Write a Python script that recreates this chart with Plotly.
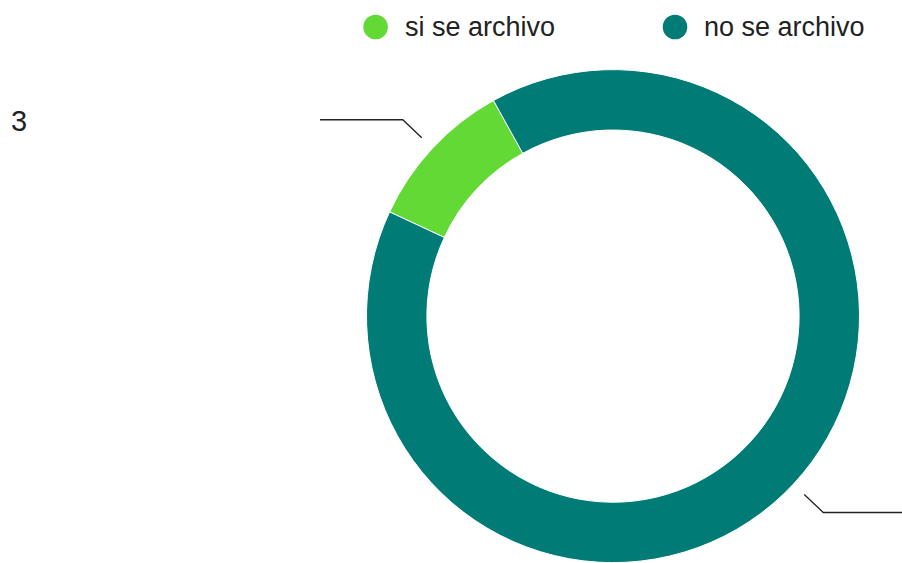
import math
import plotly.graph_objects as go

# ---- data ----
labels = ["si se archivo", "no se archivo"]
values = [3, 27]
colors = ["#62d935", "#007b76"]

W, H = 902, 563
rotation = 295          # start angle of first slice (clockwise from 12 o'clock)
hole = 0.755
dom_x = [0.4063, 0.9529]
dom_y = [0.0, 0.877]

fig = go.Figure(go.Pie(
    labels=labels, values=values, sort=False, direction="clockwise",
    rotation=rotation, hole=hole, textinfo="none", hoverinfo="label+value+percent",
    marker=dict(colors=colors, line=dict(color="white", width=1)),
    domain=dict(x=dom_x, y=dom_y), showlegend=False,
))

# pie geometry in pixels (derived from domain)
dw = (dom_x[1] - dom_x[0]) * W
dh = (dom_y[1] - dom_y[0]) * H
R = min(dw, dh) / 2
cx = (dom_x[0] + dom_x[1]) / 2 * W
cy = H - (dom_y[0] + dom_y[1]) / 2 * H

def px(x):
    return x / W

def py(y):
    return 1 - y / H

shapes = []
annotations = []
total = sum(values)
ang = rotation
for i, v in enumerate(values):
    span = 360 * v / total
    mid = math.radians(ang + span / 2)
    ang += span
    dx, dy = math.sin(mid), -math.cos(mid)
    r1 = R + 15
    x1, y1 = cx + dx * r1, cy + dy * r1
    x2, y2 = x1 + (19 if dx > 0 else -19), y1 + (18 if dy > 0 else -18)
    if dx < 0:
        x3 = 320
        annotations.append(dict(x=px(9), y=py(y2 + 1), xref="paper", yref="paper",
                                text=str(v), showarrow=False, xanchor="left", yanchor="middle",
                                font=dict(size=29, color="#222222", family="Liberation Sans, Arial")))
    else:
        x3 = W + 20
    shapes.append(dict(type="path", xref="paper", yref="paper",
                       path=f"M {px(x1)} {py(y1)} L {px(x2)} {py(y2)} L {px(x3)} {py(y2)}",
                       line=dict(color="#222222", width=1.3)))

# custom legend (circles + text)
leg_cx = [375.6, 675.0]
leg_cy = 27
leg_r = 12.3
for lab, col, lx in zip(labels, colors, leg_cx):
    shapes.append(dict(type="circle", xref="paper", yref="paper",
                       x0=px(lx - leg_r), x1=px(lx + leg_r), y0=py(leg_cy + leg_r), y1=py(leg_cy - leg_r),
                       fillcolor=col, line=dict(width=0)))
    annotations.append(dict(x=px(lx + 27), y=py(leg_cy), xref="paper", yref="paper",
                            text=lab, showarrow=False, xanchor="left", yanchor="middle",
                            font=dict(size=27, color="#222222", family="Liberation Sans, Arial")))

fig.update_layout(
    width=W, height=H, margin=dict(l=0, r=0, t=0, b=0),
    paper_bgcolor="white", plot_bgcolor="white",
    shapes=shapes, annotations=annotations,
)

fig.write_html("out.html", config={"displayModeBar": False},
               post_script="document.body.style.margin='0';document.body.style.overflow='hidden';")
